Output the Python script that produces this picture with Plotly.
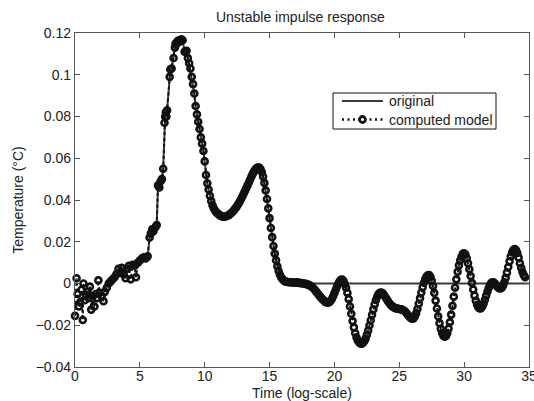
import plotly.graph_objects as go

# ---------------- data ----------------
# computed model: sparse/irregular early samples
model_t_early = [0.0, 0.12, 0.2, 0.3, 0.4, 0.5, 0.6, 0.65, 0.75, 0.85, 0.95, 1.05, 1.15, 1.25,
                 1.35, 1.5, 1.6, 1.7, 1.8, 1.9, 2.05, 2.2, 2.3, 2.45, 2.6, 2.75, 2.9, 3.05, 3.2,
                 3.35, 3.5, 3.6, 3.75, 3.9, 4.0, 4.15, 4.3, 4.45, 4.6, 4.7, 4.85, 5.0, 5.15, 5.3,
                 5.45, 5.6, 5.75, 5.85, 5.95, 6.05, 6.2, 6.3, 6.4, 6.5, 6.6, 6.7, 6.8, 6.9, 6.95,
                 7.0, 7.05, 7.1, 7.3, 7.35, 7.45, 7.6, 7.7, 7.75, 7.8, 7.9, 8.0, 8.1, 8.2, 8.3, 8.45]
model_v_early = [-0.0155, 0.0025, -0.005, -0.011, -0.009, -0.003, -0.0175, 0.0, -0.008, -0.0055,
                 -0.004, -0.007, -0.0015, -0.0125, -0.006, -0.011, -0.005, -0.007, 0.0015, -0.0045,
                 -0.006, -0.0085, -0.004, -0.002, 0.0, 0.001, 0.002, 0.003, 0.0045, 0.007, 0.005,
                 0.0075, 0.0045, 0.0025, 0.007, 0.0085, 0.002, 0.009, 0.0085, 0.003, 0.01, 0.011,
                 0.012, 0.0125, 0.012, 0.013, 0.022, 0.024, 0.026, 0.025, 0.027, 0.028, 0.047,
                 0.046, 0.049, 0.05, 0.055, 0.077, 0.080, 0.082, 0.080, 0.083, 0.099, 0.1025, 0.103,
                 0.108, 0.113, 0.115, 0.1145, 0.116, 0.1165, 0.116, 0.117, 0.1165, 0.111]

# computed model: dense samples from t = 8.6 to 34.7
model_t_dense = [
    8.6, 8.7, 8.8, 8.9, 9.0, 9.1, 9.2, 9.3, 9.4, 9.5, 9.6, 9.7, 9.8, 9.9,
    10.0, 10.1, 10.2, 10.3, 10.4, 10.5, 10.6, 10.7, 10.8, 10.9,
    11.0, 11.1, 11.2, 11.3, 11.4, 11.5, 11.6, 11.7, 11.8, 11.9,
    12.0, 12.1, 12.2, 12.3, 12.4, 12.5, 12.6, 12.7, 12.8, 12.9,
    13.0, 13.1, 13.2, 13.3, 13.4, 13.5, 13.6, 13.7, 13.8, 13.9,
    14.0, 14.1, 14.2, 14.3, 14.4, 14.5, 14.6, 14.7, 14.8, 14.9,
    15.0, 15.1, 15.2, 15.3, 15.4, 15.5, 15.6, 15.7, 15.8, 15.9,
    16.0, 16.1, 16.2, 16.3, 16.4, 16.5, 16.6, 16.7, 16.8, 16.9,
    17.0, 17.1, 17.2, 17.3, 17.4, 17.5, 17.6, 17.7, 17.8, 17.9,
    18.0, 18.1, 18.2, 18.3, 18.4, 18.5, 18.6, 18.7, 18.8, 18.9,
    19.0, 19.1, 19.2, 19.3, 19.4, 19.5, 19.6, 19.7, 19.8, 19.9,
    20.0, 20.1, 20.2, 20.3, 20.4, 20.5, 20.6, 20.7, 20.8, 20.9,
    21.0, 21.1, 21.2, 21.3, 21.4, 21.5, 21.6, 21.7, 21.8, 21.9,
    22.0, 22.1, 22.2, 22.3, 22.4, 22.5, 22.6, 22.7, 22.8, 22.9,
    23.0, 23.1, 23.2, 23.3, 23.4, 23.5, 23.6, 23.7, 23.8, 23.9,
    24.0, 24.1, 24.2, 24.3, 24.4, 24.5, 24.6, 24.7, 24.8, 24.9,
    25.0, 25.1, 25.2, 25.3, 25.4, 25.5, 25.6, 25.7, 25.8, 25.9,
    26.0, 26.1, 26.2, 26.3, 26.4, 26.5, 26.6, 26.7, 26.8, 26.9,
    27.0, 27.1, 27.2, 27.3, 27.4, 27.5, 27.6, 27.7, 27.8, 27.9,
    28.0, 28.1, 28.2, 28.3, 28.4, 28.5, 28.6, 28.7, 28.8, 28.9,
    29.0, 29.1, 29.2, 29.3, 29.4, 29.5, 29.6, 29.7, 29.8, 29.9,
    30.0, 30.1, 30.2, 30.3, 30.4, 30.5, 30.6, 30.7, 30.8, 30.9,
    31.0, 31.1, 31.2, 31.3, 31.4, 31.5, 31.6, 31.7, 31.8, 31.9,
    32.0, 32.1, 32.2, 32.3, 32.4, 32.5, 32.6, 32.7, 32.8, 32.9,
    33.0, 33.1, 33.2, 33.3, 33.4, 33.5, 33.6, 33.7, 33.8, 33.9,
    34.0, 34.1, 34.2, 34.3, 34.4, 34.5, 34.6, 34.7]
model_v_dense = [
    0.1115, 0.108, 0.1055, 0.103, 0.099, 0.0955, 0.091, 0.085, 0.081, 0.0775, 0.074, 0.070, 0.067, 0.0635,
    0.0585, 0.052, 0.048, 0.045, 0.042, 0.0395, 0.0375, 0.036, 0.035, 0.034,
    0.0335, 0.033, 0.0325, 0.0322, 0.032, 0.032, 0.0321, 0.0323, 0.0326, 0.033,
    0.0335, 0.034, 0.0347, 0.0355, 0.0363, 0.0372, 0.0382, 0.0393, 0.0405, 0.0417,
    0.043, 0.0443, 0.0456, 0.047, 0.0484, 0.0498, 0.0512, 0.0525, 0.0537, 0.0546,
    0.0553, 0.0556, 0.0555, 0.0548, 0.0534, 0.0512, 0.0482, 0.0446, 0.0405, 0.036,
    0.0313, 0.0266, 0.0222, 0.018, 0.0143, 0.0111, 0.0083, 0.006, 0.0042, 0.0029,
    0.002, 0.0014, 0.001, 0.0008, 0.0007, 0.0006, 0.0006, 0.0006, 0.0005, 0.0005,
    0.0005, 0.0004, 0.0004, 0.0003, 0.0002, 0.0001, 0.0, -0.0001, -0.0002, -0.0004,
    -0.0006, -0.0009, -0.0013, -0.0018, -0.0024, -0.0031, -0.0039, -0.0047, -0.0055, -0.0063,
    -0.007, -0.0077, -0.0083, -0.0088, -0.0091, -0.0092, -0.009, -0.0084, -0.0074, -0.0061,
    -0.0046, -0.003, -0.0014, 0.0, 0.0011, 0.0018, 0.0019, 0.0012, -0.0003, -0.002,
    -0.0045, -0.0075, -0.011, -0.0145, -0.018, -0.021, -0.0237, -0.0258, -0.0273, -0.0282,
    -0.0287, -0.0288, -0.0285, -0.0277, -0.0264, -0.0246, -0.0225, -0.0201, -0.0176, -0.015,
    -0.0124, -0.01, -0.0079, -0.0062, -0.005, -0.0044, -0.0043, -0.0046, -0.0053, -0.0062,
    -0.0072, -0.0082, -0.0091, -0.0099, -0.0106, -0.0111, -0.0115, -0.0118, -0.012, -0.0121,
    -0.0122, -0.0123, -0.0125, -0.0128, -0.0132, -0.0138, -0.0145, -0.0153, -0.016, -0.0166,
    -0.0169, -0.0167, -0.0158, -0.0143, -0.0122, -0.0097, -0.007, -0.0043, -0.0018, 0.0004,
    0.0021, 0.0033, 0.0039, 0.004, 0.0032, 0.0014, -0.0012, -0.0045, -0.0082, -0.012,
    -0.0157, -0.019, -0.0217, -0.0237, -0.025, -0.0255, -0.0251, -0.0238, -0.0216, -0.0186,
    -0.0149, -0.0107, -0.0063, -0.002, 0.002, 0.0056, 0.0087, 0.0111, 0.0128, 0.0142,
    0.0145, 0.0139, 0.0121, 0.0097, 0.0068, 0.0036, 0.0003, -0.0029, -0.0058, -0.0083,
    -0.0102, -0.0115, -0.012, -0.0118, -0.011, -0.0096, -0.0078, -0.0058, -0.0038, -0.002,
    -0.0006, 0.0003, 0.0006, 0.0004, -0.0002, -0.001, -0.0018, -0.0023, -0.0024, -0.002,
    -0.001, 0.0006, 0.0027, 0.0052, 0.0079, 0.0106, 0.013, 0.0149, 0.0161, 0.0165,
    0.016, 0.0146, 0.0124, 0.0097, 0.0075, 0.0055, 0.004, 0.003]

# original response: smooth early trend, then identical to the model up to t=16, then zero
orig_t_early = [0.0, 0.5, 1.0, 1.5, 2.0, 2.5, 3.0, 3.5, 4.0, 4.5, 5.0, 5.45]
orig_v_early = [-0.01, -0.008, -0.007, -0.005, -0.004, -0.001, 0.002, 0.005, 0.007, 0.008, 0.01, 0.012]
orig_t_tail = [16.5, 35.0]
orig_v_tail = [0.0, 0.0]

series_names = ["original", "computed model"]

x_range = [0, 35]
y_range = [-0.04, 0.12]
x_tickvals = [0, 5, 10, 15, 20, 25, 30, 35]
y_tickvals = [0.12, 0.1, 0.08, 0.06, 0.04, 0.02, 0, -0.02, -0.04]
y_ticktext = ["0.12", "0.1", "0.08", "0.06", "0.04", "0.02", "0", "\u22120.02", "\u22120.04"]

# ---------------- assemble ----------------
model_t = model_t_early + model_t_dense
model_v = model_v_early + model_v_dense

i0 = model_t.index(5.6)
i1 = model_t.index(16.0) + 1
orig_t = orig_t_early + model_t[i0:i1] + orig_t_tail
orig_v = orig_v_early + model_v[i0:i1] + orig_v_tail

FONT = "Liberation Sans, Arial, Helvetica, sans-serif"
FS = 14
ORIG_COLOR = "#3a3a3a"
MODEL_COLOR = "#111111"

fig = go.Figure()
fig.add_trace(go.Scatter(
    x=orig_t, y=orig_v, mode="lines", name=series_names[0],
    line=dict(color=ORIG_COLOR, width=2), cliponaxis=False, showlegend=False))
fig.add_trace(go.Scatter(
    x=model_t, y=model_v, mode="lines+markers", name=series_names[1],
    line=dict(color=MODEL_COLOR, width=2, dash="dot"),
    marker=dict(symbol="circle-open", size=6, color=MODEL_COLOR, line=dict(width=2.6, color=MODEL_COLOR)),
    cliponaxis=False, showlegend=False))

axis_common = dict(
    showline=True, linecolor="#555555", linewidth=1.2, mirror="ticks",
    ticks="inside", ticklen=5, tickwidth=1, tickcolor="#555555",
    showgrid=False, zeroline=False, automargin=False,
    tickfont=dict(family=FONT, size=FS, color="#222222"),
)

# legend box drawn in paper coordinates (plot area: 75..529 px wide, 33..367 px tall)
PW, PH, PL, PB = 454.0, 334.0, 75.0, 367.0
def px(xp):
    return (xp - PL) / PW
def py(yp):
    return (PB - yp) / PH

leg_rows = [py(101), py(119.5)]
shapes = [
    dict(type="rect", xref="paper", yref="paper", x0=px(333), x1=px(496), y0=py(129), y1=py(93),
         line=dict(color="#111111", width=1), fillcolor="white", layer="above"),
    dict(type="line", xref="paper", yref="paper", x0=px(342), x1=px(383), y0=leg_rows[0], y1=leg_rows[0],
         line=dict(color=ORIG_COLOR, width=2.2), layer="above"),
    dict(type="line", xref="paper", yref="paper", x0=px(342), x1=px(383), y0=leg_rows[1], y1=leg_rows[1],
         line=dict(color=MODEL_COLOR, width=2.4, dash="2px,3.5px"), layer="above"),
    dict(type="circle", xref="paper", yref="paper", xsizemode="pixel", ysizemode="pixel",
         xanchor=px(362.5), yanchor=leg_rows[1], x0=-3, x1=3, y0=-3, y1=3,
         line=dict(color=MODEL_COLOR, width=2.8), fillcolor="white", layer="above"),
]

annotations = [
    dict(text="Time (log-scale)", xref="paper", yref="paper", x=0.5, y=-0.077,
         xanchor="center", yanchor="middle", showarrow=False,
         font=dict(family=FONT, size=FS, color="#222222")),
    dict(text="Temperature (\u00b0C)", xref="paper", yref="paper", x=-0.126, y=0.5,
         xanchor="center", yanchor="middle", textangle=-90, showarrow=False,
         font=dict(family=FONT, size=FS, color="#222222")),
]
for name, yrow in zip(series_names, leg_rows):
    annotations.append(dict(text=name, xref="paper", yref="paper", x=px(387), y=yrow,
                            xanchor="left", yanchor="middle", showarrow=False,
                            font=dict(family=FONT, size=FS, color="#222222")))

fig.update_layout(
    width=534, height=401,
    margin=dict(l=75, r=5, t=33, b=34),
    paper_bgcolor="white", plot_bgcolor="white",
    font=dict(family=FONT, size=FS, color="#222222"),
    title=dict(text="Unstable impulse response", x=0.5625, xanchor="center",
               y=1 - 17 / 401, yanchor="middle", yref="container",
               font=dict(family=FONT, size=FS, color="#222222")),
    xaxis=dict(range=x_range, tickvals=x_tickvals, ticklabelstandoff=-4,
               ticklabeloverflow="allow", **axis_common),
    yaxis=dict(range=y_range, tickvals=y_tickvals, ticktext=y_ticktext, **axis_common),
    showlegend=False,
    shapes=shapes,
    annotations=annotations,
)

fig.write_html("out.html")
